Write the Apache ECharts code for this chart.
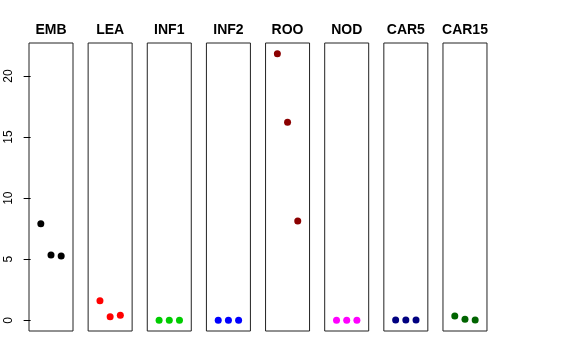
<!DOCTYPE html>
<html><head><meta charset="utf-8">
<script src="https://cdn.jsdelivr.net/npm/echarts@6/dist/echarts.min.js"></script>
<style>html,body{margin:0;padding:0;background:#fff}#c{width:576px;height:360px}</style>
</head><body><div id="c"></div>
<script>
const panels = ['EMB','LEA','INF1','INF2','ROO','NOD','CAR5','CAR15'];
const colors = ['#000000','#FF0000','#00CD00','#0000FF','#8B0000','#FF00FF','#000080','#006400'];
const xPositions = [1, 2, 3];
const EMB = [7.91, 5.35, 5.27];
const LEA = [1.61, 0.30, 0.41];
const INF1 = [0, 0, 0];
const INF2 = [0, 0, 0];
const ROO = [21.83, 16.22, 8.13];
const NOD = [0, 0, 0];
const CAR5 = [0.02, 0.02, 0.02];
const CAR15 = [0.35, 0.08, 0.03];
const yTicks = [0, 5, 10, 15, 20];
const values = [EMB, LEA, INF1, INF2, ROO, NOD, CAR5, CAR15];

const all = values.flat();
const dMin = Math.min(...all), dMax = Math.max(...all);
const pad = 0.04 * (dMax - dMin);
const yMin = dMin - pad, yMax = dMax + pad;

const L0 = 29, step = 59.14, W = 44, TOP = 43, H = 288;
const grid = [], xAxis = [], yAxis = [], series = [], graphic = [];
panels.forEach((p, i) => {
  const left = L0 + i * step;
  grid.push({left: left, top: TOP, width: W, height: H, show: true, borderColor: '#222', borderWidth: 1, backgroundColor: 'transparent'});
  xAxis.push({type: 'value', gridIndex: i, min: -0.16, max: 4.16, show: false});
  const first = i === 0;
  yAxis.push({type: 'value', gridIndex: i, min: yMin, max: yMax, show: first,
    axisLine: {show: false}, splitLine: {show: false},
    axisTick: {show: first, length: 7, customValues: yTicks, lineStyle: {color: '#000'}},
    axisLabel: {show: first, customValues: yTicks, rotate: 90, margin: 14, color: '#000',
      fontSize: 12, fontFamily: 'Liberation Sans, Arial, sans-serif'}});
  series.push({type: 'scatter', xAxisIndex: i, yAxisIndex: i, symbolSize: 7,
    itemStyle: {color: colors[i], opacity: 1}, silent: true, animation: false,
    data: xPositions.map((x, k) => [x, values[i][k]])});
  graphic.push({type: 'text', x: left + W / 2, y: 30, silent: true,
    style: {text: p, textAlign: 'center', textVerticalAlign: 'middle', fill: '#000',
      font: 'bold 14px "Liberation Sans", Arial, sans-serif'}});
});
const chart = echarts.init(document.getElementById('c'), null, {renderer: 'canvas'});
chart.setOption({animation: false, backgroundColor: '#fff', grid, xAxis, yAxis, series, graphic});
</script></body></html>
